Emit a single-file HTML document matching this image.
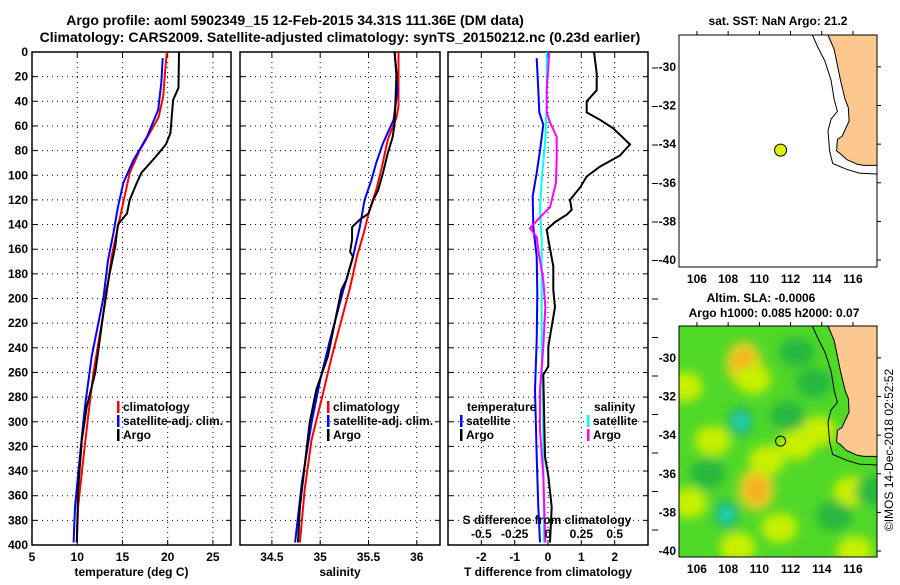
<!DOCTYPE html>
<html><head><meta charset="utf-8"><style>
html,body{margin:0;padding:0;background:#fff}
svg text{font-family:"Liberation Sans",sans-serif;font-weight:bold;fill:#000}
svg text.thin{font-weight:normal}
</style></head><body>
<svg id="c" width="900" height="580" viewBox="0 0 900 580" xmlns="http://www.w3.org/2000/svg">
<defs>
<filter id="blur" x="-50%" y="-50%" width="200%" height="200%"><feGaussianBlur stdDeviation="5"/></filter>
<clipPath id="mapclip2"><rect x="679" y="326" width="198" height="231"/></clipPath>
<clipPath id="mapclip1"><rect x="679" y="35" width="198" height="232"/></clipPath>
</defs>
<text x="295" y="25" font-size="14" text-anchor="middle">Argo profile: aoml 5902349_15 12-Feb-2015 34.31S 111.36E (DM data)</text>
<text x="340" y="42" font-size="14" text-anchor="middle">Climatology: CARS2009. Satellite-adjusted climatology: synTS_20150212.nc (0.23d earlier)</text>
</svg>
<script>
// ---- depth grids ----
const depthTicks=[0,20,40,60,80,100,120,140,160,180,200,220,240,260,280,300,320,340,360,380,400];
// temperature panel
const tempTicks=[5,10,15,20,25];
const tArgoD=[0,29,39,66,75,84,98,106,120,131,140,158,179,193,260,288,315,355,398];
const tArgoV=[21.25,21.2,20.6,20.3,19.8,18.8,17.1,16.6,15.8,15.5,14.5,14.2,13.6,13.25,12.0,11.05,10.5,10.1,9.95];
const tClimD=[0,17,36,53,66,80,98,115,142,166,196,260,296,328,369,398];
const tClimV=[19.9,19.7,19.5,19.0,18.0,16.9,15.8,15.3,14.5,13.8,13.25,11.8,11.2,10.7,10.1,9.95];
const tSatD=[5,25,47,69,88,106,126,147,169,199,247,288,328,369,398];
const tSatV=[19.45,19.3,18.95,17.7,16.2,15.1,14.5,14.0,13.4,12.9,11.6,10.85,10.3,9.75,9.6];
// salinity panel
const salTicks=[34.5,35,35.5,36];
const sArgoD=[0,17,58,69,82,98,112,120,131,136,142,152,162,166,185,193,247,274,301,342,369,398];
const sArgoV=[35.77,35.79,35.77,35.75,35.70,35.65,35.6,35.55,35.50,35.41,35.33,35.33,35.31,35.34,35.27,35.22,35.08,34.96,34.89,34.83,34.79,34.77];
const sClimD=[0,44,53,71,93,112,128,147,166,191,247,280,315,355,398];
const sClimV=[35.81,35.81,35.79,35.70,35.64,35.58,35.51,35.45,35.38,35.31,35.12,35.02,34.91,34.84,34.79];
const sSatD=[0,31,55,74,90,104,120,142,166,185,193,234,266,301,350,398];
const sSatV=[35.77,35.80,35.76,35.65,35.58,35.53,35.46,35.41,35.34,35.27,35.24,35.10,35.00,34.91,34.81,34.74];
// difference panel
const dTTicks=[-2,-1,0,1,2];
const dSTicks=[-0.5,-0.25,0,0.25,0.5];
const dSTickLabels=["-0.5","-0.25","0","0.25","0.5"];
const dtArgoD=[0,17,31,40,49,55,62,75,84,93,101,110,120,128,132,138,144,152,174,193,207,239,255,262,328,344,369,398];
const dtArgoV=[1.38,1.46,1.46,1.16,1.16,1.56,1.96,2.46,2.16,1.56,1.16,0.96,0.66,0.71,0.56,0.21,-0.04,0.01,0.16,0.16,0.21,0.01,0.01,-0.14,-0.09,0.01,0.11,0.06];
const dtSatD=[5,31,49,59,80,98,117,142,166,196,234,274,328,369,398];
const dtSatV=[-0.34,-0.29,-0.26,-0.14,-0.24,-0.34,-0.46,-0.44,-0.34,-0.32,-0.34,-0.39,-0.34,-0.29,-0.24];
const dsArgoD=[0,31,49,57,69,85,106,126,134,143,150,163,185,207,239,274,307,344,398];
const dsArgoV=[0.01,-0.01,-0.01,0.015,0.065,0.065,0.06,0.015,-0.06,-0.135,-0.085,-0.07,-0.035,-0.02,-0.035,-0.06,-0.06,-0.035,-0.02];
const dsSatD=[0,44,71,104,126,152,196,247,315,398];
const dsSatV=[-0.01,-0.01,-0.02,-0.047,-0.06,-0.047,-0.047,-0.047,-0.035,-0.03];
// maps
const lonTicks=[106,108,110,112,114,116];
const latTicks=[-30,-32,-34,-36,-38,-40];
const argoLon=111.36, argoLat=-34.31;
const coastLon=[114.4,114.8,115.2,115.5,115.7,115.75,115.3,115.0,114.95,115.2,115.6,116.3,116.7,117.6];
const coastLat=[-28.35,-29.1,-30.7,-31.7,-32.1,-32.8,-33.6,-33.75,-34.35,-34.5,-34.8,-35.05,-35.1,-35.1];
const shelfLon=[113.4,113.7,114.2,114.6,114.8,115.0,114.6,114.4,114.5,114.7,115.6,116.4,117.6];
const shelfLat=[-28.35,-28.9,-29.7,-30.7,-31.7,-32.3,-32.7,-33.3,-34.35,-35.0,-35.3,-35.5,-35.55];
// SLA blobs: lon, lat, intensity category
const blobLon=[109,109.6,108.8,107.9,109.8,112.4,115.9,112.4,111.8,106.7,114.8,117.3,105.2,116.1,111.3,108.6,105.5,113.5,107.0,110.5,113.8];
const blobLat=[-30.3,-31.1,-33.3,-38.1,-36.8,-34.5,-36.9,-29.7,-33.0,-36.0,-38.2,-36.9,-31.5,-40.0,-38.8,-39.8,-37.5,-31.3,-34.3,-35.3,-33.8];
const blobKind=["o","y","t","t","o","y","y","d","d","d","d","d","y","y","y","y","y","d","y","y","y"];

const svg=document.getElementById('c');
const NS='http://www.w3.org/2000/svg';
function mk(tag,attrs,parent){const e=document.createElementNS(NS,tag);for(const k in attrs)e.setAttribute(k,attrs[k]);(parent||svg).appendChild(e);return e;}
function txt(s,x,y,size,anchor,parent){const t=mk('text',{x:x,y:y,'font-size':size,'text-anchor':anchor||'middle'},parent);t.textContent=s;return t;}

const Y0=52,Y1=545;
const yD=d=>Y0+(d/400)*(Y1-Y0);

function panel(name,x0,x1,xmin,xmax,ticks,tickLabels,xlabel,showY){
  const g=mk('g',{});
  
  
  const sx=v=>x0+(v-xmin)/(xmax-xmin)*(x1-x0);
  depthTicks.forEach((d,i)=>{
    if(i>0&&i<depthTicks.length-1){const l=mk('line',{x1:x0,x2:x1,y1:yD(d),y2:yD(d),stroke:'#000','stroke-width':1,'stroke-dasharray':'1,4'},g);
    
    }
    mk('line',{x1:x0,x2:x0+5,y1:yD(d),y2:yD(d),stroke:'#000'},g);
    mk('line',{x1:x1-5,x2:x1,y1:yD(d),y2:yD(d),stroke:'#000'},g);
    if(showY){const t=txt(String(d),x0-4,yD(d)+4,12,'end',g);
      
      }
  });
  ticks.forEach((v,i)=>{
    const x=sx(v);
    if(x>x0+1&&x<x1-1){const l=mk('line',{x1:x,x2:x,y1:Y0,y2:Y1,stroke:'#000','stroke-width':1,'stroke-dasharray':'1,4'},g);
    
    }
    mk('line',{x1:x,x2:x,y1:Y1,y2:Y1-5,stroke:'#000'},g);
    mk('line',{x1:x,x2:x,y1:Y0,y2:Y0+5,stroke:'#000'},g);
    const t=txt(tickLabels[i],x,Y1+16,12,'middle',g);
    
    
  });
  const fr=mk('rect',{x:x0,y:Y0,width:x1-x0,height:Y1-Y0,fill:'none',stroke:'#000','stroke-width':1.5},g);
  
  
  const xl=txt(xlabel,(x0+x1)/2,Y1+31,12,'middle',g);
  
  
  return {g,sx};
}
function line(p,D,V,color,name,sx2){
  const f=sx2||p.sx;
  const pts=D.map((d,i)=>f(V[i]).toFixed(1)+','+yD(d).toFixed(1)).join(' ');
  const l=mk('polyline',{points:pts,fill:'none',stroke:color,'stroke-width':2},p.g);
  
  
}
function legend(g,x,y,items){
  items.forEach((it,i)=>{
    const yy=y+i*14;
    if(it[1]){const b=mk('rect',{x:x,y:yy-10,width:2.5,height:12,fill:it[1]},g);
    
    }
    const t=txt(it[0],x+(it[1]?6:0),yy,12,'start',g);
    
    
  });
}

const p1=panel('temperature-panel',32,231,5,27,tempTicks,tempTicks.map(String),'temperature (deg C)',true);
line(p1,tClimD,tClimV,'#f00','temp-climatology-line');
line(p1,tSatD,tSatV,'#00f','temp-satellite-line');
line(p1,tArgoD,tArgoV,'#000','temp-argo-line');
legend(p1.g,117,411,[['climatology','#f00'],['satellite-adj. clim.','#00f'],['Argo','#000']]);

const p2=panel('salinity-panel',240,440,34.17,36.24,salTicks,salTicks.map(String),'salinity',false);
line(p2,sClimD,sClimV,'#f00','sal-climatology-line');
line(p2,sSatD,sSatV,'#00f','sal-satellite-line');
line(p2,sArgoD,sArgoV,'#000','sal-argo-line');
legend(p2.g,327,411,[['climatology','#f00'],['satellite-adj. clim.','#00f'],['Argo','#000']]);

const p3=panel('difference-panel',448,648,-3,3,dTTicks,dTTicks.map(String),'T difference from climatology',false);
const sxS=v=>448+(v+0.75)/1.5*200;
line(p3,dsSatD,dsSatV,'#0ff','sal-diff-satellite-line',sxS);
line(p3,dtSatD,dtSatV,'#00f','temp-diff-satellite-line');
line(p3,dsArgoD,dsArgoV,'#f0f','sal-diff-argo-line',sxS);
line(p3,dtArgoD,dtArgoV,'#000','temp-diff-argo-line');
legend(p3.g,467,411,[['temperature',null]]);
legend(p3.g,460,425,[['satellite','#00f'],['Argo','#000']]);
legend(p3.g,594,411,[['salinity',null]]);
legend(p3.g,587,425,[['satellite','#0ff'],['Argo','#f0f']]);
{const t=txt('S difference from climatology',547,524,12,'middle',p3.g);


dSTicks.forEach((v,i)=>{const l=txt(dSTickLabels[i],sxS(v),538,12,'middle',p3.g);

});}
for(let y=68;y<560;y+=38.5){mk('line',{x1:652,x2:658,y1:y,y2:y,stroke:'#000'});}

function map(name,top,clip,withSLA,titleLines){
  const g=mk('g',{});
  
  
  const x0=679,x1=877,h=(top===35?232:231);
  const lx=v=>x0+(v-104.85)/(117.54-104.85)*(x1-x0);
  const ly=v=>top+(-28.35-v)/(40.36-28.35)*232;
  const inner=mk('g',{'clip-path':'url(#'+clip+')'},g);
  if(withSLA){
    mk('rect',{x:x0,y:top,width:x1-x0,height:h,fill:'#50d828'},inner);
    const bg=mk('g',{filter:'url(#blur)'},inner);
    const cols={o:'#e8d020',y:'#c8f000',t:'#20b868',d:'#28b840'};
    blobLon.forEach((lo,i)=>{
      const k=blobKind[i];
      const e=mk('ellipse',{cx:lx(lo),cy:ly(blobLat[i]),rx:k==='t'?13:18,ry:k==='o'?22:15,fill:cols[k]},bg);
      
      
      if(k==='t'){mk('circle',{cx:lx(lo),cy:ly(blobLat[i]),r:6,fill:'#20e0d8'},bg);}
      if(k==='o'){mk('ellipse',{cx:lx(lo),cy:ly(blobLat[i]),rx:9,ry:13,fill:'#f8a820'},bg);}
    });
  }
  else mk('rect',{x:x0,y:top,width:x1-x0,height:h,fill:'#fff'},inner);
  const cp=coastLon.map((v,i)=>lx(v).toFixed(1)+','+ly(coastLat[i]).toFixed(1));
  const land=mk('polygon',{points:cp.join(' ')+' '+x1+','+ly(-35.1)+' '+x1+','+top,fill:'#fcc890',stroke:'#000','stroke-width':1},inner);
  
  
  const sh=mk('polyline',{points:shelfLon.map((v,i)=>lx(v).toFixed(1)+','+ly(shelfLat[i]).toFixed(1)).join(' '),fill:'none',stroke:'#000','stroke-width':1},inner);
  
  
  const dot=mk('circle',{cx:lx(argoLon),cy:ly(argoLat),r:withSLA?5:6,fill:withSLA?'none':'#e0f000',stroke:'#000','stroke-width':1},g);
  
  
  const fr=mk('rect',{x:x0,y:top,width:x1-x0,height:h,fill:'none',stroke:'#000','stroke-width':1},g);
  
  
  lonTicks.forEach(v=>{
    mk('line',{x1:lx(v),x2:lx(v),y1:top,y2:top-4,stroke:'#000'},g);
    const t=txt(String(v),lx(v),top+h+16,12,'middle',g);
    
    
  });
  latTicks.forEach(v=>{
    mk('line',{x1:x1,x2:x1+4,y1:ly(v),y2:ly(v),stroke:'#000'},g);
    const t=txt(String(v),x0-3,ly(v)+4,12,'end',g);
    
    
  });
  titleLines.forEach((s,i)=>{const t=txt(s[0],s[1],s[2],12,'middle',g);
    
    });
}
map('sst-map',35,'mapclip1',false,[['sat. SST: NaN Argo: 21.2',778,25]]);
map('sla-map',326,'mapclip2',true,[['Altim. SLA: -0.0006',761,302],['Argo h1000: 0.085 h2000: 0.07',774,317]]);
{const t=txt('©IMOS 14-Dec-2018 02:52:52',0,0,12,'middle');
t.setAttribute('transform','translate(893,450) rotate(-90)');
t.setAttribute('class','thin');

}
</script>
</body></html>
